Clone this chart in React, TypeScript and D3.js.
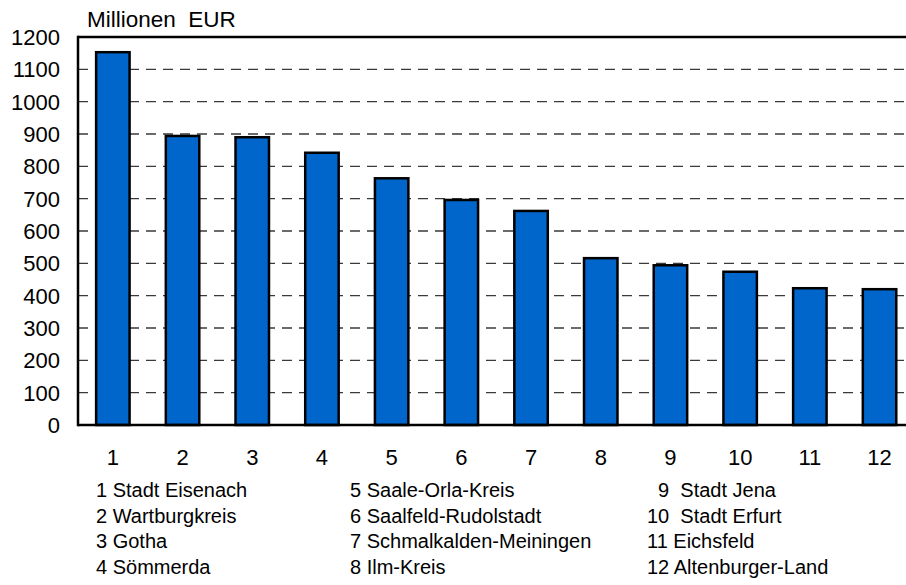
import { scaleBand, scaleLinear } from "d3";

const categories = ["1", "2", "3", "4", "5", "6", "7", "8", "9", "10", "11", "12"];
const values = [1153, 894, 890, 842, 763, 696, 662, 516, 494, 474, 423, 420];
const yTicks = [0, 100, 200, 300, 400, 500, 600, 700, 800, 900, 1000, 1100, 1200];
const legendCol1 = ["1 Stadt Eisenach", "2 Wartburgkreis", "3 Gotha", "4 Sömmerda"];
const legendCol2 = ["5 Saale-Orla-Kreis", "6 Saalfeld-Rudolstadt", "7 Schmalkalden-Meiningen", "8 Ilm-Kreis"];
const legendCol3 = ["  9  Stadt Jena", "10  Stadt Erfurt", "11 Eichsfeld", "12 Altenburger-Land"];
const unitLabel = "Millionen  EUR";

export default function App() {
  const width = 906;
  const height = 585;
  const left = 78;
  const top = 37;
  const bottom = 425;

  const x = scaleBand<string>()
    .domain(categories)
    .range([left, left + 12 * 69.7])
    .paddingInner(0.52)
    .paddingOuter(0.26);
  const y = scaleLinear().domain([0, 1200]).range([bottom, top]);

  const font = "'Liberation Sans', Arial, sans-serif";
  const legendRows = [497, 523, 548, 574];
  const legendCols = [
    { x: 96, items: legendCol1 },
    { x: 350, items: legendCol2 },
    { x: 647, items: legendCol3 },
  ];

  return (
    <div style={{ position: "fixed", left: 0, top: 0 }}>
      <svg width={width} height={height} style={{ display: "block", background: "#fff" }} fontFamily={font}>
        {/* grid */}
        {yTicks.filter((t) => t > 0 && t < 1200).map((t) => (
          <line
            key={t}
            x1={left}
            x2={width}
            y1={y(t)}
            y2={y(t)}
            stroke="#3a3a3a"
            strokeWidth={1.3}
            strokeDasharray="10 7"
          />
        ))}

        {/* bars */}
        {values.map((v, i) => (
          <rect
            key={categories[i]}
            x={x(categories[i])}
            y={y(v)}
            width={x.bandwidth()}
            height={bottom - y(v)}
            fill="#0066CC"
            stroke="#000"
            strokeWidth={2.5}
          />
        ))}

        {/* frame */}
        <line x1={left} x2={width} y1={top} y2={top} stroke="#000" strokeWidth={2.5} />
        <line x1={left} x2={width} y1={bottom} y2={bottom} stroke="#000" strokeWidth={2.5} />
        <line x1={left} x2={left} y1={top - 1.25} y2={bottom + 1.25} stroke="#000" strokeWidth={2.5} />

        {/* y tick labels */}
        {yTicks.map((t) => (
          <text key={t} x={60} y={y(t) + 8} textAnchor="end" fontSize={22} fill="#000">
            {t}
          </text>
        ))}

        {/* x labels */}
        {categories.map((c) => (
          <text key={c} x={(x(c) ?? 0) + x.bandwidth() / 2} y={465} textAnchor="middle" fontSize={22} fill="#000">
            {c}
          </text>
        ))}

        <text x={87} y={27} fontSize={22.5} fill="#000" style={{ whiteSpace: "pre" }}>
          {unitLabel}
        </text>

        {/* legend */}
        {legendCols.map((col) =>
          col.items.map((item, j) => (
            <text key={item} x={col.x} y={legendRows[j]} fontSize={20} fill="#000" style={{ whiteSpace: "pre" }}>
              {item}
            </text>
          ))
        )}
      </svg>
    </div>
  );
}
